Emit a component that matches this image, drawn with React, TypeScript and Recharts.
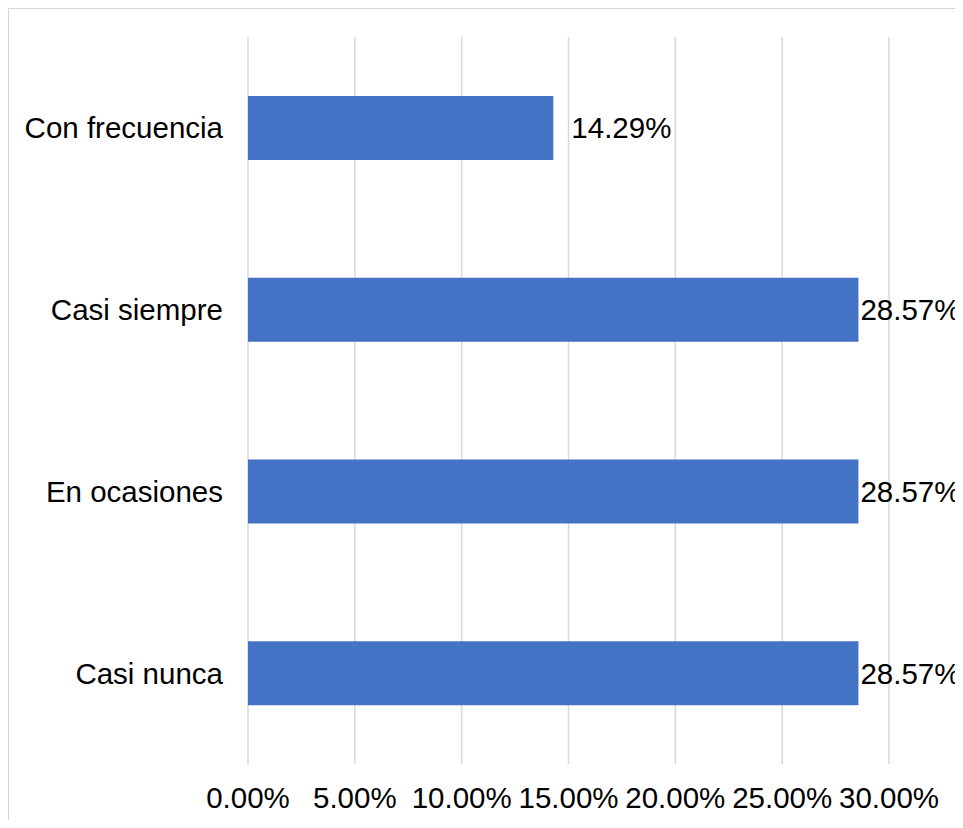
import React from 'react';
import { BarChart, Bar, XAxis, YAxis, CartesianGrid, LabelList } from 'recharts';

const categories = ['Con frecuencia', 'Casi siempre', 'En ocasiones', 'Casi nunca'];
const values = [14.29, 28.57, 28.57, 28.57];
const xTicks = [0, 5, 10, 15, 20, 25, 30];

const data = categories.map((c, i) => ({ name: c, value: values[i] }));

const FONT = 'Arial, "Liberation Sans", sans-serif';
const FS = 29.5;

const renderLabel = (props: any) => {
  const { x, y, width, height, value } = props;
  const off = value > 20 ? 2 : 18;
  return (
    <text
      x={Number(x) + Number(width) + off}
      y={Number(y) + Number(height) / 2}
      dy="0.355em"
      fontSize={FS}
      fontFamily={FONT}
      fill="#000"
      textAnchor="start"
    >
      {Number(value).toFixed(2) + '%'}
    </text>
  );
};

export default function App() {
  return (
    <div
      style={{
        position: 'relative',
        width: 954,
        height: 812,
        boxSizing: 'border-box',
        borderTop: '1px solid #d6d6d6',
        borderLeft: '1px solid #d6d6d6',
      }}
    >
      <div style={{ position: 'absolute', left: -1, top: -1 }}>
        <BarChart
          width={954}
          height={812}
          data={data}
          layout="vertical"
          margin={{ top: 29, right: 73, bottom: 0, left: 0 }}
          barSize={64}
          style={{ overflow: 'visible' }}
        >
          <CartesianGrid horizontal={false} stroke="#d9d9d9" strokeWidth={1.5} />
          <XAxis
            type="number"
            domain={[0, 30]}
            ticks={xTicks}
            interval={0}
            height={56}
            axisLine={false}
            tickLine={false}
            tickSize={0}
            tickMargin={23}
            tickFormatter={(v: number) => v.toFixed(2) + '%'}
            tick={{ fontSize: FS, fontFamily: FONT, fill: '#000' }}
          />
          <YAxis
            type="category"
            dataKey="name"
            width={240}
            axisLine={false}
            tickLine={false}
            tickSize={0}
            tickMargin={25}
            tick={{ fontSize: FS, fontFamily: FONT, fill: '#000' }}
          />
          <Bar dataKey="value" fill="#4472C4" isAnimationActive={false}>
            <LabelList dataKey="value" content={renderLabel} />
          </Bar>
        </BarChart>
      </div>
    </div>
  );
}
